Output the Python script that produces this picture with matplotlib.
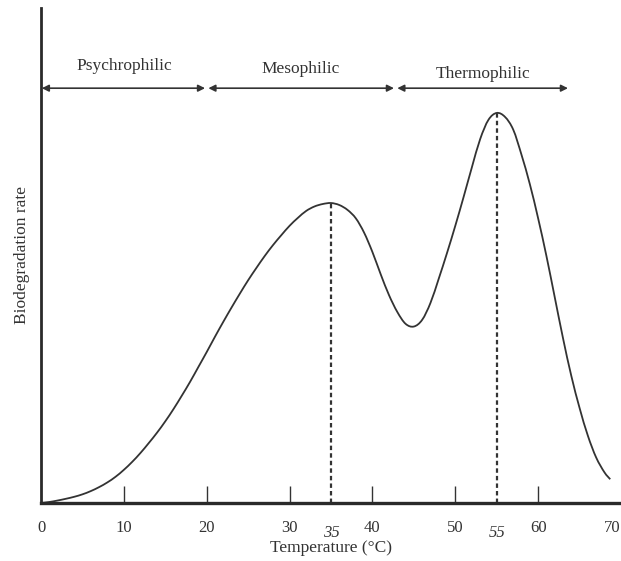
import matplotlib
matplotlib.use("Agg")
import matplotlib.pyplot as plt
from matplotlib.path import Path
from matplotlib.patches import PathPatch

plt.rcParams['font.family'] = ['Liberation Serif', 'DejaVu Serif']

# temperature (°C) and biodegradation rate (relative)
temperature = list(range(0, 69)) + [68.7]
rate = [0, 0.2, 0.5, 0.85, 1.25, 1.75, 2.4, 3.2, 4.15, 5.3,
        6.7, 8.3, 10.1, 12.1, 14.2, 16.5, 19.0, 21.7, 24.5, 27.5,
        30.5, 33.6, 36.6, 39.5, 42.3, 45.0, 47.5, 49.9, 52.1, 54.1,
        56.0, 57.6, 59.0, 59.9, 60.4, 60.6, 60.2, 59.2, 57.5, 54.6,
        50.7, 46.2, 42.0, 38.6, 36.2, 35.65, 37.0, 40.4, 45.3, 50.5,
        56.0, 61.8, 67.8, 73.5, 77.4, 78.8, 78.0, 75.4, 70.3, 64.4,
        57.5, 49.9, 41.6, 33.3, 25.7, 19.2, 13.6, 9.2, 6.2, 4.8]

# optimum temperatures marked with dashed lines
optima = [35, 55]
optima_rate = [60.6, 78.8]

# temperature ranges
ranges = ["Psychrophilic", "Mesophilic", "Thermophilic"]
range_start = [0.1, 20.2, 43.0]
range_end = [19.8, 42.6, 63.6]
label_x = [10.1, 31.3, 53.4]
label_y = [88.3, 87.6, 86.7]

xticks = [0, 10, 20, 30, 40, 50, 60, 70]

ink = '#333333'


def smooth_path(xs, ys):
    # Catmull-Rom through the read points, drawn as cubic Bezier segments
    verts = [(xs[0], ys[0])]
    codes = [Path.MOVETO]
    n = len(xs)
    for i in range(n - 1):
        x0, y0 = (xs[i - 1], ys[i - 1]) if i > 0 else (xs[i], ys[i])
        x1, y1 = xs[i], ys[i]
        x2, y2 = xs[i + 1], ys[i + 1]
        x3, y3 = (xs[i + 2], ys[i + 2]) if i + 2 < n else (x2, y2)
        verts += [(x1 + (x2 - x0) / 6, y1 + (y2 - y0) / 6),
                  (x2 - (x3 - x1) / 6, y2 - (y3 - y1) / 6),
                  (x2, y2)]
        codes += [Path.CURVE4] * 3
    return Path(verts, codes)


fig = plt.figure(figsize=(6.21, 5.61), dpi=100)
ax = fig.add_axes([41 / 621, 58 / 561, 580 / 621, 495 / 561])

ax.add_patch(PathPatch(smooth_path(temperature, rate), facecolor='none',
                       edgecolor=ink, lw=1.3))

for t, r in zip(optima, optima_rate):
    ax.plot([t, t], [0, r], color=ink, lw=1.6, linestyle=(0, (2.0, 1.4)))
    ax.text(t, -4.4, str(t), ha='center', va='top', fontsize=12,
            style='italic', color=ink)

for name, x0, x1, lx, ly in zip(ranges, range_start, range_end, label_x, label_y):
    ax.annotate('', xy=(x1, 83.8), xytext=(x0, 83.8),
                arrowprops=dict(arrowstyle='<|-|>', color=ink, lw=1.2,
                                mutation_scale=10, shrinkA=0, shrinkB=0))
    ax.text(lx, ly, name, ha='center', va='center', fontsize=12.5, color=ink)

ax.set_xlim(0, 70)
ax.set_ylim(0, 100)
ax.set_xticks(xticks)
ax.set_xticklabels([str(t) for t in xticks])
ax.set_yticks([])
ax.tick_params(axis='x', direction='in', length=12, width=1.0, color=ink,
               labelsize=12, labelcolor=ink, pad=12)
ax.get_xticklabels()[-1].set_horizontalalignment('right')
# no tick marks at the axis ends
ticklines = ax.xaxis.get_ticklines()
ticklines[0].set_visible(False)
ticklines[-2].set_visible(False)

for side in ['top', 'right']:
    ax.spines[side].set_visible(False)
ax.spines['left'].set_linewidth(2.0)
ax.spines['bottom'].set_linewidth(2.4)
ax.spines['left'].set_color('#2a2a2a')
ax.spines['bottom'].set_color('#2a2a2a')

ax.set_xlabel('Temperature (°C)', fontsize=12.5, color=ink, labelpad=3)
ax.set_ylabel('Biodegradation rate', fontsize=12.5, color=ink, labelpad=8)

fig.savefig('out.png', dpi=100)
